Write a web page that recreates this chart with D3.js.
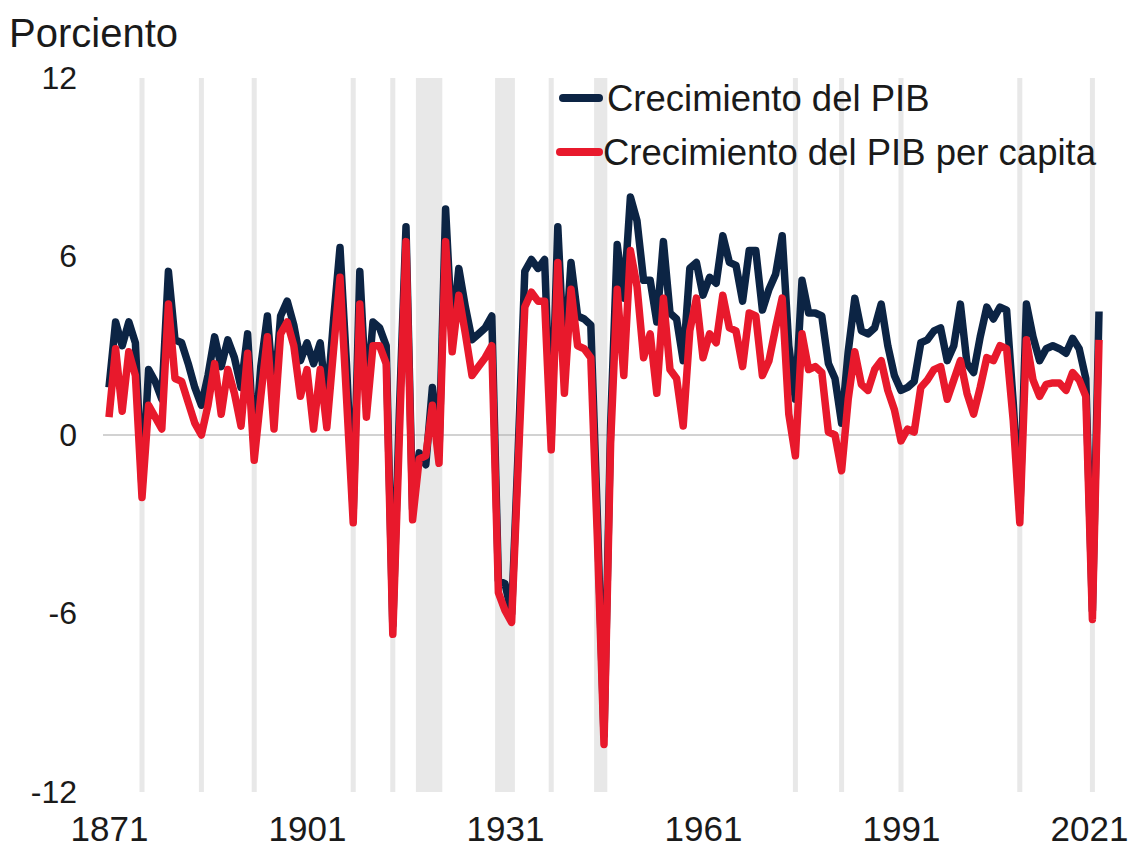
<!DOCTYPE html>
<html lang="es">
<head>
    <meta charset="UTF-8">
    <title>Crecimiento del PIB</title>
    <script src="https://d3js.org/d3.v7.min.js"></script>
    <style>
        body {
            margin: 0;
            background-color: white;
            font-family: "Liberation Sans", Arial, sans-serif;
        }
        svg {
            display: block;
        }
        .label {
            fill: #1a1a1a;
        }
    </style>
</head>
<body>
    <script>
        // Years 1871-2021, one value per year
        const years = d3.range(1871, 2022);

        // Crecimiento del PIB (percent)
        const gdpGrowth = [
            1.6, 3.8, 3.0, 3.8, 3.1, -1.8, 2.2, 1.8, 1.2, 5.5,      // 1871-1880
            3.2, 3.1, 2.4, 1.6, 1.0, 2.0, 3.3, 2.3, 3.2, 2.6,       // 1881-1890
            1.6, 3.4, -0.5, 2.3, 4.0, 1.2, 4.0, 4.5, 3.7, 2.5,      // 1891-1900
            3.1, 2.4, 3.1, 1.0, 3.8, 6.3, 2.3, -2.6, 5.5, 1.2,      // 1901-1910
            3.8, 3.6, 3.0, -6.4, 0.8, 7.0, -2.5, -0.6, -1.0, 1.6,   // 1911-1920
            -0.6, 7.6, 3.3, 5.6, 4.3, 3.2, 3.4, 3.6, 4.0, -4.9,     // 1921-1930
            -5.0, -6.0, -0.5, 5.5, 5.9, 5.6, 5.9, -0.1, 7.0, 2.4,   // 1931-1940
            5.8, 4.0, 3.9, 3.7, -2.8, -10.1, 0.3, 6.4, 4.6, 8.0,    // 1941-1950
            7.2, 5.2, 5.2, 3.8, 6.5, 4.1, 3.9, 2.5, 5.6, 5.8,       // 1951-1960
            4.7, 5.3, 5.1, 6.7, 5.8, 5.7, 4.5, 6.2, 6.2, 4.2,       // 1961-1970
            4.9, 5.4, 6.7, 3.0, 1.2, 5.2, 4.1, 4.1, 4.0, 2.4,       // 1971-1980
            1.9, 0.4, 2.8, 4.6, 3.5, 3.4, 3.6, 4.4, 3.0, 2.0,       // 1981-1990
            1.5, 1.6, 1.8, 3.1, 3.2, 3.5, 3.6, 2.5, 3.0, 4.4,       // 1991-2000
            2.4, 2.1, 3.3, 4.3, 3.9, 4.3, 4.2, 1.1, -2.6, 4.4,      // 2001-2010
            3.3, 2.5, 2.9, 3.0, 2.9, 2.75, 3.25, 2.9, 1.9, -5.9,    // 2011-2020
            4.15                                                    // 2021
        ];

        // Crecimiento del PIB per capita (percent)
        const perCapitaGrowth = [
            0.6, 2.9, 0.8, 2.8, 2.0, -2.1, 1.0, 0.6, 0.2, 4.4,
            1.9, 1.8, 1.1, 0.4, 0.0, 1.0, 2.4, 0.7, 2.2, 1.4,
            0.3, 2.75, -0.85, 1.3, 3.3, 0.2, 3.4, 3.8, 3.0, 1.3,
            2.2, 0.2, 2.2, 0.25, 2.8, 5.3, 1.2, -2.95, 4.4, 0.6,
            3.0, 3.0, 2.4, -6.7, 0.0, 6.5, -2.85, -0.8, -0.7, 1.0,
            -0.95, 6.5, 2.8, 4.7, 3.4, 2.0, 2.3, 2.6, 3.0, -5.3,
            -5.9, -6.3, -1.0, 4.3, 4.8, 4.5, 4.5, -0.5, 5.8, 1.4,
            4.9, 3.0, 2.9, 2.6, -3.5, -10.4, -0.3, 4.9, 2.0, 6.2,
            5.0, 2.6, 3.4, 1.4, 4.6, 2.2, 1.9, 0.3, 3.5, 4.6,
            2.6, 3.4, 3.1, 4.7, 3.6, 3.5, 2.3, 4.1, 4.0, 2.0,
            2.5, 3.6, 4.6, 0.7, -0.7, 3.4, 2.2, 2.3, 2.1, 0.1,
            0.0, -1.2, 1.2, 2.8, 1.7, 1.5, 2.2, 2.5, 1.5, 0.85,
            -0.2, 0.2, 0.1, 1.6, 1.85, 2.2, 2.3, 1.2, 1.85, 2.5,
            1.4, 0.7, 1.6, 2.6, 2.5, 3.0, 2.9, 0.5, -2.95, 3.2,
            1.85, 1.3, 1.7, 1.75, 1.75, 1.5, 2.1, 1.85, 1.3, -6.2,
            3.2
        ];

        // Shaded years (recessions), [first, last]
        const recessions = [
            [1876, 1876], [1885, 1885], [1893, 1893], [1908, 1908], [1914, 1914],
            [1918, 1921], [1930, 1932], [1938, 1938], [1945, 1946], [1975, 1975],
            [1982, 1982], [1991, 1991], [2009, 2009], [2020, 2020]
        ];

        const xTicks = [1871, 1901, 1931, 1961, 1991, 2021];
        const yTicks = [-12, -6, 0, 6, 12];

        const seriesNames = ["Crecimiento del PIB", "Crecimiento del PIB per capita"];
        const colors = ["#0c2444", "#e8192c"];

        const width = 1136, height = 847;

        const svg = d3.select("body").append("svg")
            .attr("width", width)
            .attr("height", height);

        const x = d3.scaleLinear().domain([1871, 2021]).range([109, 1099]);
        const y = d3.scaleLinear().domain([-12, 12]).range([792, 78]);

        // recession bars: one-year bars are a bit thinner than a full year
        svg.selectAll(".rec")
            .data(recessions)
            .enter()
            .append("rect")
            .attr("class", "rec")
            .attr("x", d => d[0] === d[1] ? x(d[0] - 0.38) : x(d[0] - 0.5))
            .attr("width", d => d[0] === d[1] ? x(d[0] + 0.38) - x(d[0] - 0.38) : x(d[1] + 0.5) - x(d[0] - 0.5))
            .attr("y", y(12))
            .attr("height", y(-12) - y(12))
            .attr("fill", "#e8e8e8");

        // zero line
        svg.append("line")
            .attr("x1", x(1871) - 6)
            .attr("x2", x(2021))
            .attr("y1", y(0))
            .attr("y2", y(0))
            .attr("stroke", "#a6a6a6")
            .attr("stroke-width", 1.2);

        // y axis labels (no axis line)
        const yAxis = svg.append("g")
            .attr("transform", "translate(77,0)")
            .call(d3.axisLeft(y).tickValues(yTicks).tickFormat(d => String(d)).tickSize(0).tickPadding(0));
        yAxis.select(".domain").remove();
        yAxis.selectAll("text")
            .attr("class", "label")
            .style("font-size", "32px")
            .style("font-family", "'Liberation Sans', Arial, sans-serif");

        // x axis labels
        const xAxis = svg.append("g")
            .attr("transform", "translate(0,816)")
            .call(d3.axisBottom(x).tickValues(xTicks).tickFormat(d3.format("d")).tickSize(0).tickPadding(0));
        xAxis.select(".domain").remove();
        xAxis.selectAll("text")
            .attr("class", "label")
            .style("font-size", "35px")
            .style("font-family", "'Liberation Sans', Arial, sans-serif");
        // last label sits a little left so it stays inside the picture
        xAxis.selectAll("text")
            .filter(d => d === 2021)
            .attr("dx", -10);

        // lines
        const line = d3.line()
            .x((d, i) => x(years[i]))
            .y(d => y(d));

        [gdpGrowth, perCapitaGrowth].forEach((series, k) => {
            svg.append("path")
                .datum(series)
                .attr("fill", "none")
                .attr("stroke", colors[k])
                .attr("stroke-width", 7.5)
                .attr("stroke-linejoin", "round")
                .attr("d", line);
        });

        // unit label
        svg.append("text")
            .attr("class", "label")
            .attr("x", 9)
            .attr("y", 47)
            .style("font-size", "40px")
            .text("Porciento");

        // legend
        const legend = svg.append("g");
        const legendRows = [
            {name: seriesNames[0], color: colors[0], y: 98, x1: 563, tx: 607},
            {name: seriesNames[1], color: colors[1], y: 152, x1: 560, tx: 603}
        ];
        legendRows.forEach(r => {
            legend.append("line")
                .attr("x1", r.x1).attr("x2", 599)
                .attr("y1", r.y).attr("y2", r.y)
                .attr("stroke", r.color)
                .attr("stroke-width", 8)
                .attr("stroke-linecap", "round");
            legend.append("text")
                .attr("class", "label")
                .attr("x", r.tx)
                .attr("y", r.y)
                .attr("dy", "0.35em")
                .style("font-size", "36.5px")
                .text(r.name);
        });
    </script>
</body>
</html>
